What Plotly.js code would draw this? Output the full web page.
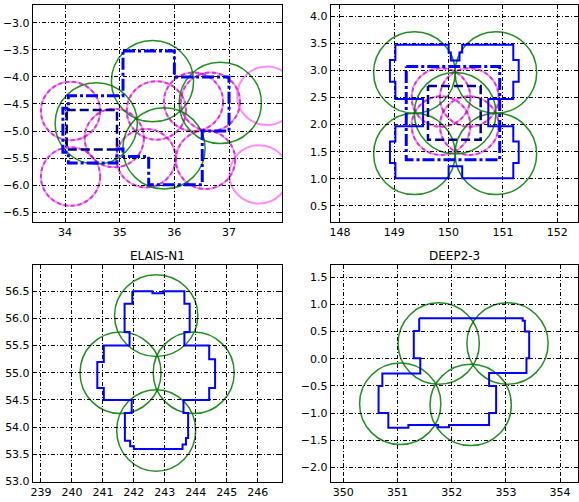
<!DOCTYPE html>
<html><head><meta charset="utf-8">
<script src="https://cdn.plot.ly/plotly-3.0.1.min.js"></script>
<style>html,body{margin:0;padding:0;background:#fff;}#chart{width:579px;height:502px;}</style>
</head><body><div id="chart"></div>
<script>
// ---------- data ----------
const fieldNames = ['XMM-LSS', 'COSMOS', 'ELAIS-N1', 'DEEP2-3'];
const greenRadius = 0.75;
const magentaRadius = 0.54;

// XMM-LSS
const xmmGreenRA  = [35.60, 34.57, 36.84, 35.81];
const xmmGreenDec = [-4.08, -4.86, -4.48, -5.32];
const xmmMagentaRA  = [34.10, 34.10, 34.90, 35.67, 35.48, 36.35, 36.66, 36.57];
const xmmMagentaDec = [-4.63, -5.84, -5.13, -4.62, -5.50, -4.46, -4.46, -5.53];
const xmmMagentaSolidRA  = [37.69, 37.55];
const xmmMagentaSolidDec = [-4.35, -5.80];
const xmmDashDotRA  = [35.06, 36.00, 36.00, 37.00, 37.00, 36.51, 36.51, 35.53, 35.53, 35.06, 35.06, 34.95, 34.95, 34.06, 34.06, 33.96, 33.96, 34.06, 34.06, 35.06, 35.06];
const xmmDashDotDec = [-3.52, -3.52, -4.00, -4.00, -5.00, -5.00, -5.99, -5.99, -5.47, -5.47, -5.33, -5.33, -5.59, -5.59, -5.39, -5.39, -4.58, -4.58, -4.35, -4.35, -3.52];
const xmmDashedRA  = [34.03, 34.95, 34.95, 34.03, 34.03];
const xmmDashedDec = [-4.61, -4.61, -5.34, -5.34, -4.61];

// COSMOS
const cosGreenRA  = [150.12, 149.37, 150.87, 149.37, 150.87];
const cosGreenDec = [2.21, 2.96, 2.96, 1.46, 1.46];
const cosMagentaRA  = [149.86, 150.38, 149.86, 150.38];
const cosMagentaDec = [2.50, 2.50, 1.98, 1.98];
const cosSolidRA  = [149.02, 150.00, 150.00, 150.04, 150.04, 150.20, 150.20, 150.25, 150.25, 151.19, 151.19, 151.29, 151.29, 151.19, 151.19, 150.73, 150.73, 151.19, 151.19, 151.29, 151.29, 151.19, 151.19, 150.25, 150.25, 150.00, 150.00, 149.02, 149.02, 148.92, 148.92, 149.02, 149.02, 149.53, 149.53, 149.02, 149.02, 148.92, 148.92, 149.02, 149.02];
const cosSolidDec = [3.47, 3.47, 3.33, 3.33, 3.18, 3.18, 3.33, 3.33, 3.47, 3.47, 3.19, 3.19, 2.79, 2.79, 2.47, 2.47, 1.97, 1.97, 1.69, 1.69, 1.29, 1.29, 1.01, 1.01, 1.23, 1.23, 1.01, 1.01, 1.29, 1.29, 1.69, 1.69, 1.97, 1.97, 2.47, 2.47, 2.79, 2.79, 3.19, 3.19, 3.47];
const cosDashDotRA  = [149.22, 150.94, 150.94, 149.22, 149.22];
const cosDashDotDec = [3.07, 3.07, 1.35, 1.35, 3.07];
const cosDashedRA  = [149.62, 150.59, 150.59, 149.62, 149.62];
const cosDashedDec = [2.71, 2.71, 1.72, 1.72, 2.71];

// ELAIS-N1
const elaisGreenRA  = [242.72, 241.57, 243.93, 242.72];
const elaisGreenDec = [56.05, 55.00, 55.00, 53.94];
const elaisSolidRA  = [241.95, 242.60, 242.60, 242.95, 242.95, 243.63, 243.63, 243.80, 243.80, 243.63, 243.63, 244.43, 244.43, 244.62, 244.62, 244.43, 244.43, 243.60, 243.60, 243.75, 243.75, 243.68, 243.68, 243.57, 243.57, 242.00, 242.00, 241.88, 241.88, 241.71, 241.71, 241.93, 241.93, 241.03, 241.03, 240.82, 240.82, 241.03, 241.03, 241.86, 241.86, 241.70, 241.70, 241.95, 241.95];
const elaisSolidDec = [56.50, 56.50, 56.46, 56.46, 56.50, 56.50, 56.27, 56.27, 55.75, 55.75, 55.50, 55.50, 55.25, 55.25, 54.72, 54.72, 54.50, 54.50, 54.26, 54.26, 53.80, 53.80, 53.68, 53.68, 53.60, 53.60, 53.65, 53.65, 53.75, 53.75, 54.26, 54.26, 54.50, 54.50, 54.72, 54.72, 55.20, 55.20, 55.50, 55.50, 55.75, 55.75, 56.27, 56.27, 56.50];

// DEEP2-3
const deepGreenRA  = [351.76, 353.03, 351.05, 352.35];
const deepGreenDec = [0.28, 0.28, -0.83, -0.85];
const deepSolidRA  = [351.40, 353.31, 353.31, 353.35, 353.35, 353.43, 353.43, 353.38, 353.38, 352.69, 352.69, 352.82, 352.82, 352.69, 352.69, 351.95, 351.95, 351.75, 351.75, 351.20, 351.20, 350.83, 350.83, 350.65, 350.65, 350.72, 350.72, 351.42, 351.42, 351.30, 351.30, 351.40, 351.40];
const deepSolidDec = [0.745, 0.745, 0.70, 0.70, 0.50, 0.50, 0.01, 0.01, -0.26, -0.26, -0.50, -0.50, -1.00, -1.00, -1.22, -1.22, -1.26, -1.26, -1.22, -1.22, -1.27, -1.27, -1.00, -1.00, -0.50, -0.50, -0.27, -0.27, 0.01, 0.01, 0.51, 0.51, 0.745];

// ---------- styles ----------
const GREEN = 'rgba(0,120,0,0.85)';
const MAG_SOLID = 'rgba(255,0,255,0.45)';
const MAG_DASH = 'rgba(160,0,160,0.55)';
const BLUE = '#0000ff';
const NAVY = '#000080';
const FONT = 'DejaVu Sans';

function circles(ras, decs, r, ax, color, width, dash) {
  return ras.map((ra, i) => {
    const rx = r / Math.cos(decs[i] * Math.PI / 180);
    return {type: 'circle', xref: 'x' + ax, yref: 'y' + ax, layer: 'below',
      x0: ra - rx, x1: ra + rx, y0: decs[i] - r, y1: decs[i] + r,
      line: {color: color, width: width, dash: dash || 'solid'}};
  });
}
function poly(x, y, ax, color, width, dash) {
  return {type: 'scatter', mode: 'lines', x: x, y: y, xaxis: 'x' + ax, yaxis: 'y' + ax,
    line: {color: color, width: width, dash: dash || 'solid'}, hoverinfo: 'skip', showlegend: false};
}
function axis(domain, range, dtick, fmt, anchor) {
  return {domain: domain, range: range, dtick: dtick, tick0: 0, tickformat: fmt,
    showgrid: true, gridcolor: '#000', gridwidth: 1, griddash: '4px,2px,1px,2px',
    showline: true, linecolor: '#000', linewidth: 1, mirror: 'ticks',
    ticks: 'inside', ticklen: 4, tickcolor: '#000', zeroline: false,
    tickfont: {family: FONT, size: 11, color: '#000'}, anchor: anchor, fixedrange: true};
}

const DD = '12px,3px,3px,3px';
const DASH = '9px,4px';
const traces = [
  poly(xmmDashDotRA, xmmDashDotDec, '', BLUE, 3, DD),
  poly(xmmDashedRA, xmmDashedDec, '', NAVY, 2.5, DASH),
  poly(cosSolidRA, cosSolidDec, '2', BLUE, 2),
  poly(cosDashDotRA, cosDashDotDec, '2', BLUE, 3, DD),
  poly(cosDashedRA, cosDashedDec, '2', NAVY, 2.5, DASH),
  poly(elaisSolidRA, elaisSolidDec, '3', BLUE, 2),
  poly(deepSolidRA, deepSolidDec, '4', BLUE, 2)
];

const shapes = [].concat(
  circles(xmmMagentaRA, xmmMagentaDec, magentaRadius, '', MAG_SOLID, 2),
  circles(xmmMagentaRA, xmmMagentaDec, magentaRadius, '', MAG_DASH, 2, '4px,3px'),
  circles(xmmMagentaSolidRA, xmmMagentaSolidDec, magentaRadius, '', MAG_SOLID, 2),
  circles(xmmGreenRA, xmmGreenDec, greenRadius, '', GREEN, 1.5),
  circles(cosMagentaRA, cosMagentaDec, magentaRadius, '2', MAG_SOLID, 2),
  circles(cosMagentaRA, cosMagentaDec, magentaRadius, '2', MAG_DASH, 2, '4px,3px'),
  circles(cosGreenRA, cosGreenDec, greenRadius, '2', GREEN, 1.5),
  circles(elaisGreenRA, elaisGreenDec, greenRadius, '3', GREEN, 1.5),
  circles(deepGreenRA, deepGreenDec, greenRadius, '4', GREEN, 1.5)
);

const dL = [0.0567, 0.4871], dR = [0.5712, 0.9991];
const dT = [0.5578, 0.9900], dB = [0.0404, 0.4721];

const titleAnn = (name, xd, yd) => ({text: name, xref: 'paper', yref: 'paper',
  x: (xd[0] + xd[1]) / 2, y: yd[1], xanchor: 'center', yanchor: 'bottom', yshift: 0,
  showarrow: false, font: {family: FONT, size: 12, color: '#000'}});

const layout = {
  width: 579, height: 502, margin: {l: 0, r: 0, t: 0, b: 0},
  paper_bgcolor: '#fff', plot_bgcolor: '#fff', showlegend: false,
  xaxis:  axis(dL, [33.41, 37.97], 1, 'd', 'y'),
  yaxis:  axis(dT, [-6.679, -2.673], 0.5, '.1f', 'x'),
  xaxis2: axis(dR, [147.83, 152.39], 1, 'd', 'y2'),
  yaxis2: axis(dT, [0.205, 4.203], 0.5, '.1f', 'x2'),
  xaxis3: axis(dL, [238.74, 246.78], 1, 'd', 'y3'),
  yaxis3: axis(dB, [52.998, 56.98], 0.5, '.1f', 'x3'),
  xaxis4: axis(dR, [349.767, 354.34], 1, 'd', 'y4'),
  yaxis4: axis(dB, [-2.265, 1.727], 0.5, '.1f', 'x4'),
  shapes: shapes,
  annotations: [
    titleAnn(fieldNames[0], dL, dT), titleAnn(fieldNames[1], dR, dT),
    titleAnn(fieldNames[2], dL, dB), titleAnn(fieldNames[3], dR, dB)
  ]
};

Plotly.newPlot('chart', traces, layout, {staticPlot: true, displayModeBar: false});
</script></body></html>
